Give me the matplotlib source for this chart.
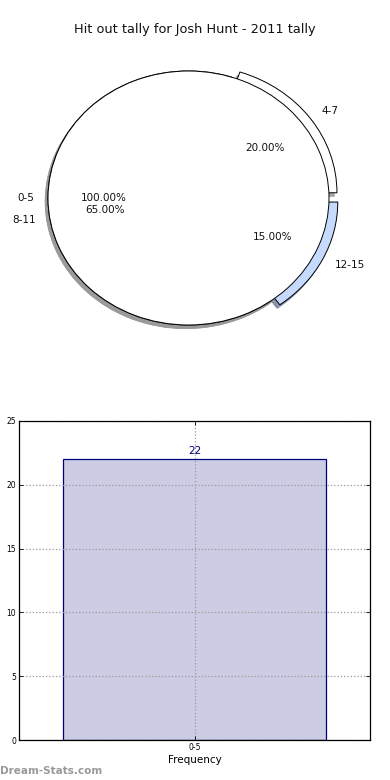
import matplotlib
matplotlib.use("Agg")
import matplotlib.pyplot as plt

# ---- data ----
title = "Hit out tally for Josh Hunt - 2011 tally"
outer_labels = ["0-5"]
outer_values = [100]
inner_labels = ["4-7", "8-11", "12-15"]
inner_values = [20, 65, 15]
bar_categories = ["0-5"]
bar_values = [22]
yticks = [0, 5, 10, 15, 20, 25]

plt.rcParams['font.family'] = ['DejaVu Sans']

fig = plt.figure(figsize=(3.9, 7.8), dpi=100)
fig.text(0.5, 1 - 30 / 780, title, ha='center', va='center', fontsize=9.3, color='#111111')

# ---- pie ----
W, H = 390.0, 780.0
cx, cy = 188.5, 198.0
rx, ry = 140.5, 127.0
axp = fig.add_axes([(cx - 1.25 * rx) / W, (H - cy - 1.25 * ry) / H, 2.5 * rx / W, 2.5 * ry / H])

shadow = {'ox': -0.014, 'oy': -0.02, 'shade': 0.4, 'alpha': 0.85}
axp.pie(inner_values, labels=inner_labels, explode=[0.07, 0, 0.07],
        colors=['white', 'white', '#c6d9ff'], autopct='%1.2f%%', startangle=0,
        shadow=shadow, wedgeprops={'edgecolor': 'black', 'linewidth': 0.7},
        textprops={'fontsize': 7.5, 'color': '#111111'})
axp.pie(outer_values, labels=outer_labels, colors=['white'], autopct='%1.2f%%',
        startangle=0, shadow=shadow,
        wedgeprops={'edgecolor': 'black', 'linewidth': 0.7},
        textprops={'fontsize': 7.5, 'color': '#111111'})
axp.set_aspect('auto')
axp.set_xlim(-1.25, 1.25)
axp.set_ylim(-1.25, 1.25)
axp.axis('off')

# ---- bar ----
axb = fig.add_axes([19 / W, (H - 740) / H, 351 / W, 319 / H])
x = list(range(len(bar_categories)))
bars = axb.bar(x, bar_values, width=0.8, color='#ccccE4', edgecolor='#000080', linewidth=0.9, zorder=1)
for xi, v in zip(x, bar_values):
    axb.text(xi, v + 0.25, str(v), ha='center', va='bottom', fontsize=7.5, color='#000080')
axb.set_xlim(-0.532, 0.532)
axb.set_ylim(0, 25)
axb.set_yticks(yticks)
axb.set_xticks(x)
axb.set_xticklabels(bar_categories)
axb.tick_params(direction='in', labelsize=5.5, top=True, right=True, length=3, width=0.6, pad=2)
axb.set_axisbelow('line')
axb.grid(True, linestyle=':', color='#999999', linewidth=0.9)
for s in axb.spines.values():
    s.set_linewidth(0.9)
    s.set_zorder(3)
axb.set_xlabel("Frequency", fontsize=7.5, labelpad=2)
axb.set_ylabel("Hit out tally", fontsize=7.5, labelpad=4)

fig.text(0.0, 1 - 771 / 780, "Dream-Stats.com", ha='left', va='center', fontsize=7.5,
         fontweight='bold', color='#999999')

fig.savefig("out.png", dpi=100)
